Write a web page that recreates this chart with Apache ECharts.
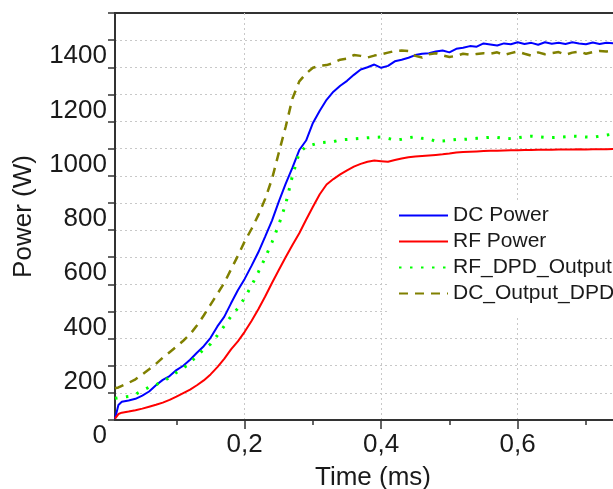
<!DOCTYPE html>
<html>
<head>
<meta charset="utf-8">
<script src="https://cdn.jsdelivr.net/npm/echarts@6/dist/echarts.min.js"></script>
<style>
  html, body { margin: 0; padding: 0; background: #fff; }
  #chart { width: 613px; height: 489px; }
</style>
</head>
<body>
<div id="chart"></div>
<script>
// time in ms
var time = [0.01, 0.015, 0.02, 0.03, 0.04, 0.05, 0.06, 0.07, 0.08, 0.09, 0.10,
  0.11, 0.12, 0.13, 0.14, 0.15, 0.16, 0.17, 0.18, 0.19, 0.20,
  0.21, 0.22, 0.23, 0.24, 0.25, 0.26, 0.27, 0.28, 0.29, 0.30,
  0.31, 0.32, 0.33, 0.34, 0.35, 0.36, 0.37, 0.38, 0.39, 0.40,
  0.41, 0.42, 0.43, 0.44, 0.45, 0.46, 0.47, 0.48, 0.49, 0.50,
  0.51, 0.52, 0.53, 0.54, 0.55, 0.56, 0.57, 0.58, 0.59, 0.60,
  0.61, 0.62, 0.63, 0.64, 0.65, 0.66, 0.67, 0.68, 0.69, 0.70,
  0.71, 0.72, 0.73, 0.74, 0.75, 0.76];

var dcPower = [5, 55, 67, 72, 78, 90, 105, 128, 148, 162, 184, 200,
  222, 248, 272, 303, 345, 380, 430, 478, 520, 568,
  618, 676, 735, 805, 870, 930, 995, 1030, 1095, 1140,
  1180, 1210, 1232, 1250, 1272, 1292, 1300, 1310, 1298, 1305,
  1322, 1328, 1335, 1345, 1350, 1352, 1358, 1362, 1355, 1368,
  1372, 1378, 1376, 1388, 1384, 1380, 1388, 1385, 1392, 1386,
  1390, 1383, 1392, 1387, 1390, 1386, 1392, 1388, 1385, 1391,
  1386, 1390, 1388, 1391, 1389];

var rfPower = [5, 22, 27, 31, 36, 42, 49, 56, 64, 74, 86, 99,
  112, 128, 146, 168, 195, 225, 260, 290, 325, 365,
  408, 455, 505, 553, 600, 645, 688, 738, 786, 832,
  868, 888, 905, 920, 934, 944, 952, 956, 954, 952,
  958, 964, 968, 971, 973, 975, 977, 979, 982, 986,
  988, 989, 990, 991, 992, 992, 993, 994, 994, 995,
  995, 996, 996, 996, 997, 997, 997, 998, 997, 998,
  998, 998, 999, 998, 999];

var rfDpdOutput = [80, 82, 84, 87, 95, 108, 121, 130, 142, 157, 175, 190,
  212, 236, 260, 280, 312, 346, 382, 412, 450, 495,
  545, 598, 655, 720, 795, 900, 985, 1008, 1015, 1022,
  1024, 1026, 1032, 1034, 1036, 1038, 1040, 1042, 1043, 1038,
  1032, 1035, 1040, 1044, 1038, 1036, 1027, 1028, 1031, 1034,
  1034, 1036, 1038, 1040, 1042, 1041, 1038, 1037, 1040, 1044,
  1046, 1044, 1042, 1041, 1042, 1044, 1046, 1045, 1043, 1042,
  1046, 1050, 1054, 1055, 1055];

var dcOutputDpd = [117, 120, 126, 137, 150, 168, 187, 207, 230, 250, 270, 292,
  316, 348, 385, 425, 465, 505, 555, 605, 658, 704,
  755, 815, 888, 985, 1080, 1185, 1248, 1277, 1298, 1306,
  1308, 1316, 1328, 1332, 1345, 1342, 1336, 1343, 1348, 1354,
  1360, 1362, 1360, 1342, 1336, 1348, 1352, 1344, 1338, 1342,
  1350, 1346, 1349, 1352, 1350, 1355, 1345, 1352, 1358, 1350,
  1343, 1355, 1348, 1352, 1356, 1346, 1354, 1358, 1350, 1356,
  1360, 1358, 1362, 1360, 1362];

var xMajorTicks = [0.2, 0.4, 0.6, 0.8];
var xMinorTicks = [0.1, 0.3, 0.5, 0.7];

function pairs(ys) {
  return time.map(function (t, i) { return [t, ys[i]]; });
}

var FONT = '"Liberation Sans", Arial, sans-serif';
var AXIS = '#333';
var GRID = '#c8c8c8';

var chart = echarts.init(document.getElementById('chart'));
chart.setOption({
  animation: false,
  backgroundColor: '#fff',
  textStyle: { fontFamily: FONT },
  grid: {
    left: 115, top: 13, right: -48, bottom: 69,
    show: true, borderColor: AXIS, borderWidth: 2,
    outerBoundsMode: 'none'
  },
  legend: {
    orient: 'vertical',
    left: 390, top: 200,
    padding: [3, 60, 10, 8],
    backgroundColor: '#fff',
    itemWidth: 49, itemHeight: 14, itemGap: 1,
    itemStyle: { opacity: 0 },
    textStyle: { fontSize: 21, lineHeight: 25, color: '#1a1a1a', fontFamily: FONT },
    data: ['DC Power', 'RF Power', 'RF_DPD_Output', 'DC_Output_DPD']
  },
  xAxis: [{
    // minor ticks at the odd tenths
    type: 'value', min: 0.01, max: 0.81, position: 'bottom',
    axisLine: { show: true, lineStyle: { color: AXIS, width: 2 } },
    axisTick: { show: true, customValues: xMinorTicks, length: 5, lineStyle: { color: AXIS, width: 1.5 } },
    axisLabel: { show: false },
    splitLine: { show: false }
  }, {
    // major ticks, labels and vertical gridlines
    type: 'value', min: 0.01, max: 0.81, position: 'bottom',
    axisLine: { show: false },
    axisTick: { show: true, customValues: xMajorTicks, length: 9, lineStyle: { color: AXIS, width: 1.5 } },
    axisLabel: {
      customValues: xMajorTicks, fontSize: 26, color: '#1a1a1a', margin: 12,
      formatter: function (v) { return v.toFixed(1).replace('.', ','); }
    },
    splitLine: { show: true, lineStyle: { color: GRID, type: [2, 3], width: 1 } },
    name: 'Time (ms)', nameLocation: 'middle', nameGap: 45,
    nameTextStyle: { fontSize: 26, color: '#1a1a1a', padding: [0, 30, 0, 0] }
  }],
  yAxis: {
    type: 'value', min: 0, max: 1500, interval: 100,
    axisLine: { show: true, lineStyle: { color: AXIS, width: 2 } },
    axisTick: { show: true, length: 7, lineStyle: { color: AXIS, width: 1.5 } },
    axisLabel: {
      fontSize: 26, color: '#1a1a1a', margin: 8, verticalAlign: 'top', padding: [3, 0, 0, 0],
      formatter: function (v) { return v % 200 === 0 ? String(v) : ''; }
    },
    splitLine: { show: true, showMinLine: false, showMaxLine: false, lineStyle: { color: GRID, type: [2, 3], width: 1 } },
    name: 'Power (W)', nameLocation: 'middle', nameGap: 78,
    nameTextStyle: { fontSize: 26, color: '#1a1a1a' }
  },
  series: [{
    name: 'DC Power', type: 'line', xAxisIndex: 0, symbol: 'none', showSymbol: false,
    data: pairs(dcPower), color: '#0000ff',
    lineStyle: { color: '#0000ff', width: 2 }
  }, {
    name: 'RF Power', type: 'line', xAxisIndex: 0, symbol: 'none', showSymbol: false,
    data: pairs(rfPower), color: '#ff0000',
    lineStyle: { color: '#ff0000', width: 2 }
  }, {
    name: 'RF_DPD_Output', type: 'line', xAxisIndex: 0, symbol: 'none', showSymbol: false,
    data: pairs(rfDpdOutput), color: '#00ff00',
    lineStyle: { color: '#00ff00', width: 3, type: [2.5, 8.5] }
  }, {
    name: 'DC_Output_DPD', type: 'line', xAxisIndex: 0, symbol: 'none', showSymbol: false,
    data: pairs(dcOutputDpd), color: '#808000',
    lineStyle: { color: '#808000', width: 2.5, type: [9, 7] }
  }]
});
</script>
</body>
</html>
